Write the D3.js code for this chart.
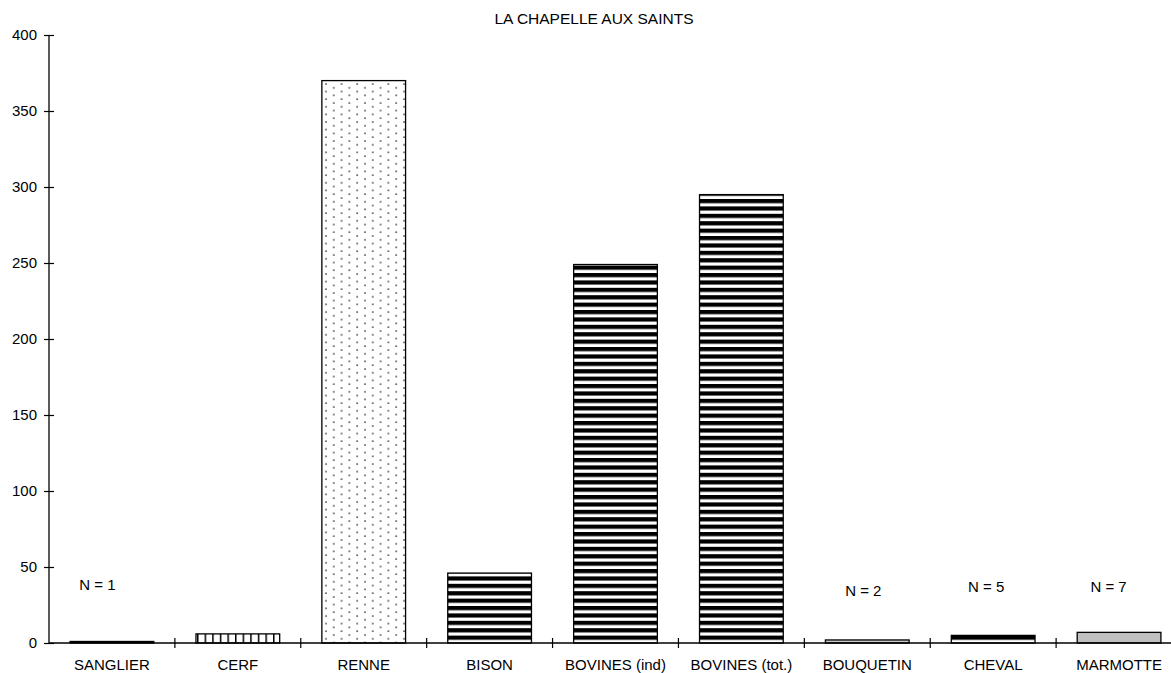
<!DOCTYPE html>
<html>
<head>
<meta charset="utf-8">
<script src="https://cdn.jsdelivr.net/npm/d3@7"></script>
<style>
  body { margin: 0; background: #fff; }
  text { font-family: "Liberation Sans", Arial, sans-serif; }
</style>
</head>
<body>
<script>
'use-strict';

// chart data
let categories = ["SANGLIER", "CERF", "RENNE", "BISON", "BOVINES (ind)", "BOVINES (tot.)", "BOUQUETIN", "CHEVAL", "MARMOTTE"];
let values = [1, 6, 370, 46, 249, 295, 2, 5, 7];
let fills = ["black", "url(#vstripe)", "url(#dots)", "url(#hstripe)", "url(#hstripe)", "url(#hstripe)", "#c8c8c8", "url(#hstripe)", "#c0c0c0"];
let nCats = ["SANGLIER", "BOUQUETIN", "CHEVAL", "MARMOTTE"];
let nTexts = ["N = 1", "N = 2", "N = 5", "N = 7"];
let yTicks = [0, 50, 100, 150, 200, 250, 300, 350, 400];

// annotation placement (pixel offsets from band centre / baseline)
let nOffsetX = [-14.5, -4, -7, -10.5];
let nBaseline = [590, 596, 592, 592];

let width = 1171, height = 673;
let margin = { top: 35, left: 49, bottom: 30, right: -11 };

let svg = d3.select("body").append("svg")
  .attr("width", width)
  .attr("height", height);

// patterns
let defs = svg.append("defs");
let hs = defs.append("pattern").attr("id", "hstripe").attr("patternUnits", "userSpaceOnUse")
  .attr("width", 8).attr("height", 7.4).attr("y", 643);
hs.append("rect").attr("width", 8).attr("height", 7.4).attr("fill", "white");
hs.append("rect").attr("width", 8).attr("height", 4.2).attr("fill", "black");

let vs = defs.append("pattern").attr("id", "vstripe").attr("patternUnits", "userSpaceOnUse")
  .attr("width", 7.6).attr("height", 8).attr("x", 197);
vs.append("rect").attr("width", 7.6).attr("height", 8).attr("fill", "white");
vs.append("rect").attr("width", 1.5).attr("height", 8).attr("fill", "black");

let dp = defs.append("pattern").attr("id", "dots").attr("patternUnits", "userSpaceOnUse")
  .attr("width", 15.6).attr("height", 7.6).attr("x", 323).attr("y", 82);
dp.append("rect").attr("width", 15.6).attr("height", 7.6).attr("fill", "white");
dp.append("circle").attr("cx", 3).attr("cy", 2).attr("r", 0.9).attr("fill", "#333");
dp.append("circle").attr("cx", 10.8).attr("cy", 5.8).attr("r", 0.9).attr("fill", "#333");

// scales
let x = d3.scaleBand()
  .domain(categories)
  .range([margin.left, width - margin.right])
  .paddingInner(0.335)
  .paddingOuter(0.1675);

let xTickScale = d3.scaleLinear().domain([0, categories.length]).range([margin.left, width - margin.right]);

let y = d3.scaleLinear()
  .domain([0, 400])
  .range([height - margin.bottom, margin.top]);

// bars
svg.selectAll(".bar")
  .data(categories)
  .enter()
  .append("rect")
  .attr("x", d => x(d))
  .attr("y", (d, i) => y(values[i]))
  .attr("width", x.bandwidth())
  .attr("height", (d, i) => y(0) - y(values[i]))
  .attr("fill", (d, i) => fills[i])
  .attr("stroke", "black")
  .attr("stroke-width", 1.3);

// y axis
let yAxis = d3.axisLeft(y).tickValues(yTicks).tickSizeInner(5).tickSizeOuter(0).tickPadding(8);
let gy = svg.append("g").attr("transform", "translate(" + margin.left + ",0)").call(yAxis);
gy.selectAll(".tick line").attr("x2", 5).attr("x1", -5).attr("stroke-width", 1.2);
gy.select(".domain").attr("d", "M0," + y(400) + "V" + y(0)).attr("stroke-width", 1.3);
gy.selectAll("text").style("font-size", "15px").attr("fill", "black").attr("x", -12);

// x axis
let gx = svg.append("g").attr("transform", "translate(0," + y(0) + ")");
gx.append("line").attr("x1", margin.left).attr("x2", width - margin.right)
  .attr("stroke", "black").attr("stroke-width", 1.3);
gx.selectAll(".xt")
  .data(d3.range(1, categories.length))
  .enter()
  .append("line")
  .attr("x1", d => xTickScale(d)).attr("x2", d => xTickScale(d))
  .attr("y1", -5).attr("y2", 5)
  .attr("stroke", "black").attr("stroke-width", 1.2);
gx.selectAll(".xl")
  .data(categories)
  .enter()
  .append("text")
  .attr("x", d => x(d) + x.bandwidth() / 2)
  .attr("y", 27)
  .attr("text-anchor", "middle")
  .style("font-size", "15px")
  .text(d => d);

// N labels
svg.selectAll(".nlab")
  .data(nCats)
  .enter()
  .append("text")
  .attr("x", (d, i) => x(d) + x.bandwidth() / 2 + nOffsetX[i])
  .attr("y", (d, i) => nBaseline[i])
  .attr("text-anchor", "middle")
  .style("font-size", "15px")
  .text((d, i) => nTexts[i]);

// title
svg.append("text")
  .attr("x", 594)
  .attr("y", 24)
  .attr("text-anchor", "middle")
  .style("font-size", "15.5px")
  .text("LA CHAPELLE AUX SAINTS");
</script>
</body>
</html>
